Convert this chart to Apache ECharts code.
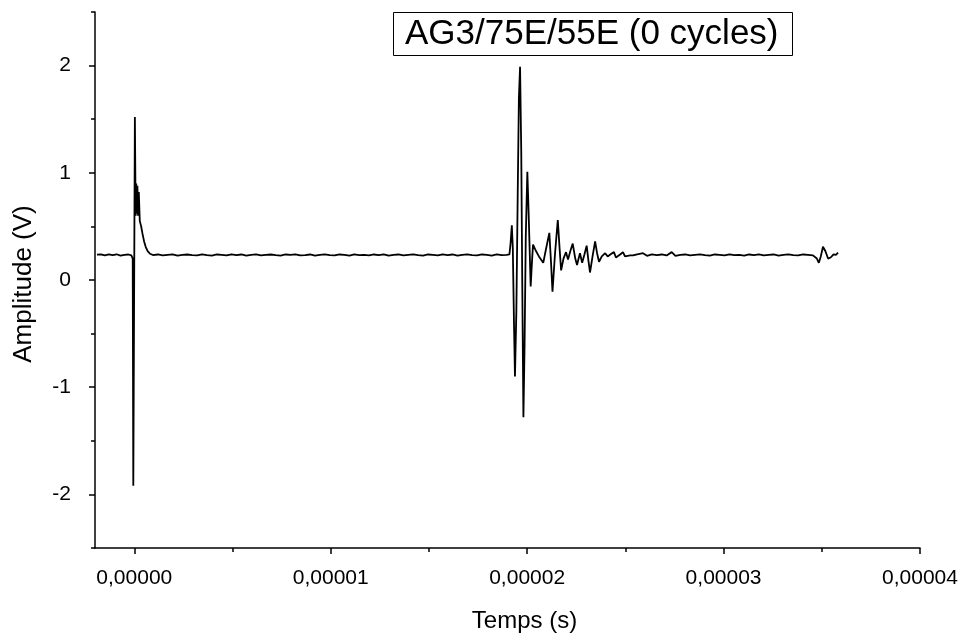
<!DOCTYPE html>
<html><head><meta charset="utf-8">
<script src="https://cdn.jsdelivr.net/npm/echarts@6/dist/echarts.min.js"></script>
<style>html,body{margin:0;padding:0;background:#fff}#c{width:966px;height:643px}</style>
</head><body><div id="c"></div><script>
// Time in microseconds, amplitude in volts
const timeUs = [
 -1.9,-1.7,-1.5,-1.3,-1.1,-0.9,-0.7,-0.5,-0.3,-0.15,-0.08,
 -0.05,0.03,0.07,0.1,0.13,0.16,0.19,0.23,0.28,0.35,0.42,0.5,0.58,0.68,0.8,0.95,
 1.2,1.45,1.7,1.95,2.2,2.45,2.7,2.95,3.2,3.45,3.7,3.95,4.2,4.45,4.7,4.95,5.2,5.45,5.7,5.95,
 6.2,6.45,6.7,6.95,7.2,7.45,7.7,7.95,8.2,8.45,8.7,8.95,9.2,9.45,9.7,9.95,10.2,10.45,10.7,10.95,
 11.2,11.45,11.7,11.95,12.2,12.45,12.7,12.95,13.2,13.45,13.7,13.95,14.2,14.45,14.7,14.95,
 15.2,15.45,15.7,15.95,16.2,16.45,16.7,16.95,17.2,17.45,17.7,17.95,18.2,18.45,18.7,18.95,
 19.1,19.16,19.22,19.27,19.33,19.38,19.45,19.52,19.58,19.64,19.7,19.75,19.81,19.87,19.93,20.01,
 20.08,20.18,20.24,20.3,20.45,20.6,20.82,20.95,21.13,21.22,21.29,21.42,21.56,21.65,21.73,21.85,
 21.98,22.08,22.2,22.32,22.45,22.54,22.62,22.69,22.8,22.92,23.03,23.12,23.2,23.33,23.46,23.56,
 23.66,23.8,23.97,24.1,24.25,24.42,24.52,24.62,24.75,24.88,24.98,25.08,25.25,25.39,25.6,25.9,
 26.1,26.35,26.6,26.85,27.1,27.36,27.55,27.8,28.05,28.3,28.55,28.8,29.05,29.3,29.55,29.8,
 30.05,30.3,30.55,30.8,31.05,31.3,31.55,31.8,32.05,32.3,32.55,32.8,33.05,33.3,33.55,33.8,
 34.05,34.3,34.55,34.75,34.85,34.95,35.06,35.18,35.32,35.45,35.6,35.72,35.83
];
const amplitudeV = [
 0.236,0.24,0.229,0.238,0.232,0.24,0.227,0.235,0.238,0.229,0.2,
 -1.92,1.52,0.6,0.9,0.62,0.88,0.6,0.82,0.55,0.5,0.43,0.36,0.31,0.27,0.245,0.233,
 0.238,0.229,0.235,0.24,0.227,0.235,0.238,0.232,0.229,0.24,0.232,0.227,0.238,0.235,0.229,0.24,0.232,0.238,0.227,0.235,
 0.24,0.229,0.235,0.238,0.232,0.227,0.238,0.235,0.24,0.229,0.232,0.238,0.227,0.235,0.24,0.232,0.229,0.238,0.235,0.227,
 0.24,0.232,0.235,0.229,0.238,0.232,0.24,0.227,0.235,0.238,0.229,0.235,0.24,0.232,0.227,0.238,
 0.235,0.229,0.24,0.232,0.238,0.227,0.235,0.24,0.232,0.229,0.238,0.235,0.227,0.24,0.232,0.235,
 0.24,0.35,0.51,0.3,-0.4,-0.9,-0.3,0.8,1.7,1.99,1.2,0.0,-1.28,-0.6,0.4,1.01,
 0.6,-0.06,0.15,0.33,0.27,0.22,0.16,0.28,0.44,0.15,-0.11,0.25,0.56,0.3,0.09,0.2,
 0.26,0.19,0.27,0.34,0.2,0.14,0.2,0.25,0.16,0.24,0.32,0.18,0.07,0.22,0.36,0.25,
 0.17,0.22,0.25,0.22,0.24,0.26,0.21,0.2,0.24,0.26,0.22,0.21,0.23,0.23,0.24,0.25,
 0.226,0.24,0.232,0.238,0.229,0.26,0.226,0.235,0.238,0.229,0.235,0.24,0.232,0.227,0.238,0.235,
 0.229,0.24,0.232,0.235,0.227,0.238,0.232,0.24,0.229,0.235,0.238,0.227,0.235,0.24,0.232,0.229,
 0.238,0.235,0.23,0.2,0.16,0.22,0.31,0.27,0.2,0.21,0.24,0.235,0.255
];
const xMajorTicks = [0, 10, 20, 30, 40];
const xMinorTicks = [5, 15, 25, 35];
const yMajorTicks = [-2, -1, 0, 1, 2];
const yMinorTicks = [-2.5, -1.5, -0.5, 0.5, 1.5, 2.5];
const titleText = 'AG3/75E/55E (0 cycles)';
const xName = 'Temps (s)';
const yName = 'Amplitude (V)';

const FONT = 'Liberation Sans, Arial, sans-serif';
const data = timeUs.map((t, i) => [t, amplitudeV[i]]);
const X_MIN = -2, X_MAX = 40, Y_MIN = -2.5, Y_MAX = 2.5;
const lineStyle = { color: '#000', width: 1.5 };

const chart = echarts.init(document.getElementById('c'), null, { renderer: 'canvas' });
chart.setOption({
  backgroundColor: '#fff',
  animation: false,
  title: {
    text: titleText, left: 393, top: 12,
    borderColor: '#000', borderWidth: 1,
    padding: [4, 14, 4, 12],
    textStyle: { fontFamily: FONT, fontSize: 35, fontWeight: 'normal', color: '#000', lineHeight: 36 }
  },
  grid: { left: 95, right: 46, top: 12, bottom: 95, containLabel: false },
  xAxis: [{
    type: 'value', min: X_MIN, max: X_MAX, position: 'bottom',
    name: xName, nameLocation: 'middle', nameGap: 61,
    nameTextStyle: { fontFamily: FONT, fontSize: 24, color: '#000', padding: [0, 0, 0, 34] },
    axisLine: { show: true, onZero: false, lineStyle: lineStyle },
    axisTick: { show: true, length: 6, customValues: xMajorTicks, lineStyle: lineStyle },
    axisLabel: { customValues: xMajorTicks, margin: 20, fontFamily: FONT, fontSize: 21, color: '#000',
      formatter: v => (v * 1e-6).toFixed(5).replace('.', ',') },
    splitLine: { show: false }
  }, {
    type: 'value', min: X_MIN, max: X_MAX, position: 'bottom', gridIndex: 0,
    axisLine: { show: false, onZero: false },
    axisTick: { show: true, length: 4, customValues: xMinorTicks, lineStyle: lineStyle },
    axisLabel: { show: false }, splitLine: { show: false }
  }],
  yAxis: [{
    type: 'value', min: Y_MIN, max: Y_MAX, position: 'left',
    name: yName, nameLocation: 'middle', nameGap: 58, nameRotate: 90,
    nameTextStyle: { fontFamily: FONT, fontSize: 26, color: '#000', padding: [0, 8, 0, 0] },
    axisLine: { show: true, onZero: false, lineStyle: lineStyle },
    axisTick: { show: true, length: 6, customValues: yMajorTicks, lineStyle: lineStyle },
    axisLabel: { customValues: yMajorTicks, margin: 24, fontFamily: FONT, fontSize: 21, color: '#000' },
    splitLine: { show: false }
  }, {
    type: 'value', min: Y_MIN, max: Y_MAX, position: 'left', gridIndex: 0,
    axisLine: { show: false, onZero: false },
    axisTick: { show: true, length: 4, customValues: yMinorTicks, lineStyle: lineStyle },
    axisLabel: { show: false }, splitLine: { show: false }
  }],
  series: [{
    type: 'line', data: data, xAxisIndex: 0, yAxisIndex: 0,
    showSymbol: false, symbol: 'none',
    lineStyle: { color: '#000', width: 1.8 },
    silent: true
  }]
});
</script></body></html>
